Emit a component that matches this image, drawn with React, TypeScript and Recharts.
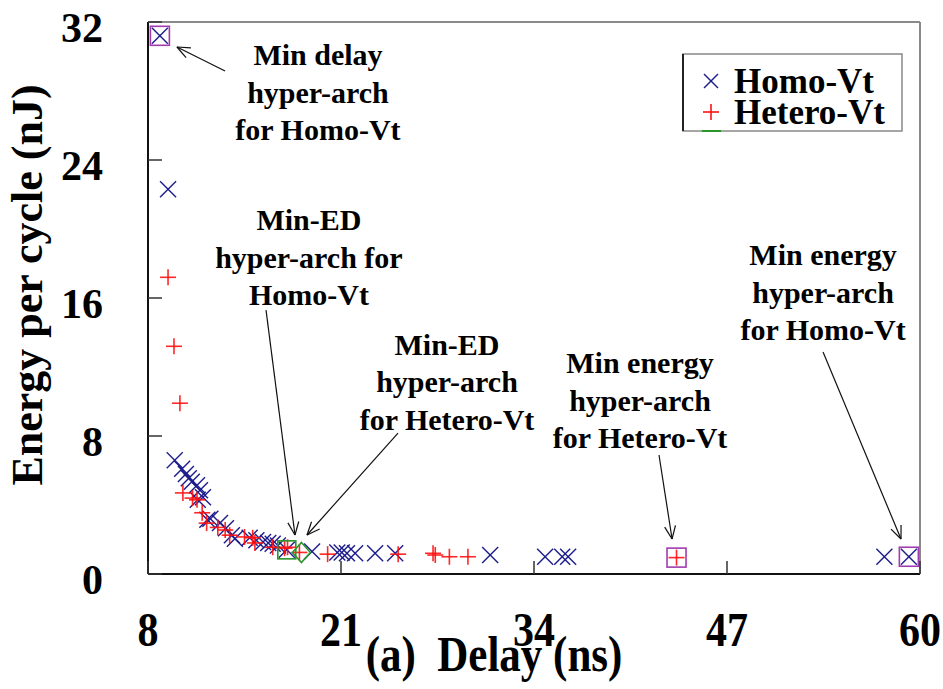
import React from 'react';
import { ScatterChart, Scatter, XAxis, YAxis, ReferenceLine, ReferenceDot, Legend } from 'recharts';

// delay (ns) / energy per cycle (nJ)
const homoDelay = [8.8, 9.35, 9.8, 10.3, 10.55, 10.75, 10.95, 11.3, 11.5, 11.7, 11.35, 12.0, 12.2, 12.85, 13.25, 13.65, 13.85, 14.85, 15.3, 15.75, 16.1, 16.4, 16.75, 17.35, 19.05, 20.75, 21.05, 21.4, 21.95, 23.3, 24.65, 31.05, 34.75, 35.9, 36.3, 57.6, 59.25];
const homoEnergy = [31.2, 22.3, 6.6, 6.1, 5.8, 5.55, 5.35, 5.15, 4.85, 4.45, 4.3, 3.15, 3.2, 2.95, 2.65, 2.25, 2.05, 2.1, 1.95, 1.85, 1.8, 1.75, 1.65, 1.4, 1.3, 1.25, 1.25, 1.2, 1.2, 1.2, 1.2, 1.1, 1.0, 1.0, 1.0, 1.0, 1.0];

const heteroDelay = [9.35, 9.75, 10.15, 10.35, 11.0, 11.3, 11.65, 11.95, 12.7, 13.2, 13.5, 14.5, 15.05, 15.2, 16.4, 17.2, 17.4, 18.2, 20.1, 24.85, 27.2, 27.35, 28.3, 29.55, 43.6];
const heteroEnergy = [17.2, 13.2, 9.9, 4.7, 4.4, 4.3, 3.55, 2.95, 2.7, 2.55, 2.25, 2.15, 2.1, 1.8, 1.55, 1.5, 1.55, 1.25, 1.15, 1.15, 1.2, 1.1, 1.0, 1.0, 0.95];

// highlighted hyper-archs
const minDelayEnergyDelay = [8.8, 43.6, 59.25];
const minDelayEnergyEnergy = [31.2, 0.95, 1.0];
const minEdHomo = [{ x: 17.35, y: 1.4 }];
const minEdHetero = [{ x: 18.2, y: 1.25 }];

const xTicks = [8, 21, 34, 47, 60];
const yTicks = [0, 8, 16, 24, 32];

const notes = [
  { x: 19.45, y: 29.5, lines: ['Min delay', 'hyper-arch', 'for Homo-Vt'] },
  { x: 18.84, y: 19.94, lines: ['Min-ED', 'hyper-arch for', 'Homo-Vt'] },
  { x: 28.14, y: 12.7, lines: ['Min-ED', 'hyper-arch', 'for Hetero-Vt'] },
  { x: 41.14, y: 11.65, lines: ['Min energy', 'hyper-arch', 'for Hetero-Vt'] },
  { x: 53.47, y: 17.91, lines: ['Min energy', 'hyper-arch', 'for Homo-Vt'] },
];

const arrows = [
  [{ x: 13.19, y: 29.16 }, { x: 9.95, y: 30.55 }],
  [{ x: 15.95, y: 15.3 }, { x: 17.9, y: 2.26 }],
  [{ x: 24.84, y: 8.17 }, { x: 18.71, y: 2.26 }],
  [{ x: 42.42, y: 6.9 }, { x: 43.3, y: 2.03 }],
  [{ x: 53.47, y: 12.87 }, { x: 58.72, y: 2.03 }],
];

const zip = (xs: number[], ys: number[]) => xs.map((x, i) => ({ x, y: ys[i] }));
const homo = zip(homoDelay, homoEnergy);
const hetero = zip(heteroDelay, heteroEnergy);
const boxed = zip(minDelayEnergyDelay, minDelayEnergyEnergy);

const FONT = '"Liberation Serif", "Times New Roman", serif';
const BLUE = '#1c1c8c';
const RED = '#ff1010';
const PURPLE = '#a03cb0';
const GREEN = '#2a962a';

const Cross = (props: any) => {
  const { cx, cy } = props;
  const s = 8;
  return (
    <g stroke={BLUE} strokeWidth={1.4}>
      <line x1={cx - s} y1={cy - s} x2={cx + s} y2={cy + s} />
      <line x1={cx - s} y1={cy + s} x2={cx + s} y2={cy - s} />
    </g>
  );
};

const Plus = (props: any) => {
  const { cx, cy } = props;
  const s = 8;
  return (
    <g stroke={RED} strokeWidth={1.6} strokeOpacity={0.9}>
      <line x1={cx - s} y1={cy} x2={cx + s} y2={cy} />
      <line x1={cx} y1={cy - s} x2={cx} y2={cy + s} />
    </g>
  );
};

const PurpleBox = (props: any) => (
  <rect x={props.cx - 9.5} y={props.cy - 9.5} width={19} height={19} fill="none" stroke={PURPLE} strokeWidth={1.6} />
);

const GreenBox = (props: any) => (
  <rect x={props.cx - 9} y={props.cy - 9} width={18} height={18} fill="none" stroke={GREEN} strokeWidth={1.6} />
);

const GreenDiamond = (props: any) => {
  const { cx, cy } = props;
  return (
    <polygon
      points={`${cx + 2},${cy - 10} ${cx + 11},${cy} ${cx + 2},${cy + 10} ${cx - 7},${cy}`}
      fill="none"
      stroke={GREEN}
      strokeWidth={1.6}
    />
  );
};

const YTick = (props: any) => {
  const { x, y, payload } = props;
  return (
    <g>
      <line x1={x} y1={y} x2={x + 14} y2={y} stroke="#333" strokeWidth={1.5} />
      <text x={x - 45} y={y + 20} textAnchor="end" fontFamily={FONT} fontWeight="bold" fontSize={42} fill="#000">
        {payload.value}
      </text>
    </g>
  );
};

const XTick = (props: any) => {
  const { x, y, payload } = props;
  return (
    <g>
      <line x1={x} y1={y} x2={x} y2={y - 13} stroke="#333" strokeWidth={1.5} />
      <text
        transform={`translate(${x},${y + 72}) scale(1,1.16)`}
        textAnchor="middle"
        fontFamily={FONT}
        fontWeight="bold"
        fontSize={42}
        fill="#000"
      >
        {payload.value}
      </text>
    </g>
  );
};

const Note = (lines: string[]) => (props: any) => {
  const { cx, cy } = props;
  return (
    <text x={cx} y={cy} textAnchor="middle" fontFamily={FONT} fontWeight="bold" fontSize={30} fill="#000">
      {lines.map((l, i) => (
        <tspan key={i} x={cx} y={cy + i * 37.5}>
          {l}
        </tspan>
      ))}
    </text>
  );
};

const Arrow = (props: any) => {
  const { x1, y1, x2, y2 } = props;
  const a = Math.atan2(y1 - y2, x1 - x2);
  const len = 14;
  const spread = 0.4;
  return (
    <g stroke="#111" strokeWidth={1.2} fill="none">
      <line x1={x1} y1={y1} x2={x2} y2={y2} />
      <line x1={x2} y1={y2} x2={x2 + len * Math.cos(a + spread)} y2={y2 + len * Math.sin(a + spread)} />
      <line x1={x2} y1={y2} x2={x2 + len * Math.cos(a - spread)} y2={y2 + len * Math.sin(a - spread)} />
    </g>
  );
};

const LegendBox = () => (
  <svg width={222} height={80} style={{ display: 'block' }}>
    <rect x={1} y={1} width={219} height={77} fill="#fff" stroke="#888" strokeWidth={1.5} />
    <line x1={1} y1={1} x2={1} y2={78} stroke="#222" strokeWidth={2} />
    <line x1={20} y1={78} x2={39} y2={78} stroke={GREEN} strokeWidth={2} />
    <g stroke={BLUE} strokeWidth={1.4}>
      <line x1={22} y1={21} x2={36} y2={35} />
      <line x1={22} y1={35} x2={36} y2={21} />
    </g>
    <g stroke={RED} strokeWidth={1.6}>
      <line x1={21} y1={59} x2={37} y2={59} />
      <line x1={29} y1={51} x2={29} y2={67} />
    </g>
    <text x={52} y={40} fontFamily={FONT} fontWeight="bold" fontSize={35} fill="#000">Homo-Vt</text>
    <text x={52} y={71} fontFamily={FONT} fontWeight="bold" fontSize={35} fill="#000">Hetero-Vt</text>
  </svg>
);

const XTitle = (props: any) => {
  const { viewBox } = props;
  const cx = viewBox.x + viewBox.width / 2 - 40;
  return (
    <text
      transform={`translate(${cx},${viewBox.y + 97}) scale(1,1.16)`}
      textAnchor="middle"
      fontFamily={FONT}
      fontWeight="bold"
      fontSize={43}
      fill="#000"
      style={{ whiteSpace: 'pre' }}
    >
      {'(a)  Delay (ns)'}
    </text>
  );
};

const YTitle = (props: any) => {
  const { viewBox } = props;
  const x = viewBox.x - 6;
  const y = viewBox.y + viewBox.height / 2 - 13;
  return (
    <text
      transform={`translate(${x},${y}) rotate(-90)`}
      textAnchor="middle"
      fontFamily={FONT}
      fontWeight="bold"
      fontSize={44}
      fill="#000"
    >
      Energy per cycle (nJ)
    </text>
  );
};

export default function App() {
  return (
    <div style={{ position: 'absolute', left: 0, top: 0, width: 943, height: 689, background: '#fff' }}>
      <ScatterChart width={943} height={689} margin={{ top: 22, right: 23, left: 48, bottom: 55 }}>
        <XAxis
          type="number"
          dataKey="x"
          domain={[8, 60]}
          ticks={xTicks}
          height={60}
          tickSize={0}
          tickMargin={0}
          tickLine={false}
          tick={<XTick />}
          axisLine={{ stroke: '#111', strokeWidth: 2 }}
          allowDataOverflow
          label={{ content: <XTitle /> }}
        />
        <YAxis
          type="number"
          dataKey="y"
          domain={[0, 32]}
          ticks={yTicks}
          width={100}
          tickSize={0}
          tickMargin={0}
          tickLine={false}
          tick={<YTick />}
          axisLine={{ stroke: '#111', strokeWidth: 2 }}
          allowDataOverflow
          label={{ content: <YTitle /> }}
        />
        <ReferenceLine y={32} stroke="#8a8a8a" strokeWidth={2} />
        <ReferenceLine x={60} stroke="#8a8a8a" strokeWidth={2} />
        <Legend
          layout="horizontal"
          verticalAlign="middle"
          align="center"
          content={<LegendBox />}
          wrapperStyle={{ position: 'absolute', top: 53, left: 682, width: 222, height: 80 }}
        />
        <Scatter name="Homo-Vt" data={homo} shape={<Cross />} isAnimationActive={false} />
        <Scatter name="Hetero-Vt" data={hetero} shape={<Plus />} isAnimationActive={false} />
        <Scatter name="boxed" data={boxed} shape={<PurpleBox />} legendType="none" isAnimationActive={false} />
        <Scatter name="minEdHomo" data={minEdHomo} shape={<GreenBox />} legendType="none" isAnimationActive={false} />
        <Scatter name="minEdHetero" data={minEdHetero} shape={<GreenDiamond />} legendType="none" isAnimationActive={false} />
        {arrows.map((seg, i) => (
          <ReferenceLine key={`a${i}`} segment={seg} shape={<Arrow />} ifOverflow="visible" />
        ))}
        {notes.map((n, i) => (
          <ReferenceDot key={`n${i}`} x={n.x} y={n.y} r={0} shape={Note(n.lines)} ifOverflow="visible" />
        ))}
      </ScatterChart>
    </div>
  );
}
